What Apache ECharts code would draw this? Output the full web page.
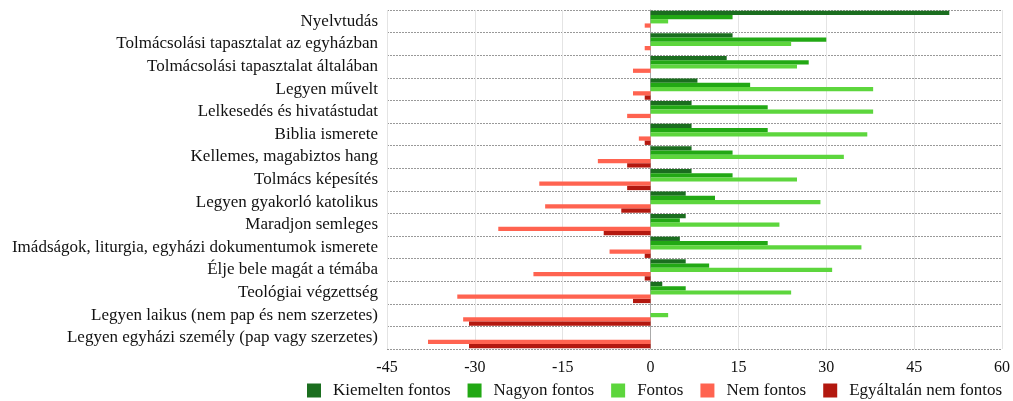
<!DOCTYPE html>
<html><head><meta charset="utf-8">
<script src="https://cdn.jsdelivr.net/npm/echarts@6/dist/echarts.min.js"></script>
<style>html,body{margin:0;padding:0;background:#fff}#c{width:1013px;height:401px}</style>
</head><body><div id="c"></div>
<script>
const categories = ["Nyelvtudás","Tolmácsolási tapasztalat az egyházban","Tolmácsolási tapasztalat általában","Legyen művelt","Lelkesedés és hivatástudat","Biblia ismerete","Kellemes, magabiztos hang","Tolmács képesítés","Legyen gyakorló katolikus","Maradjon semleges","Imádságok, liturgia, egyházi dokumentumok ismerete","Élje bele magát a témába","Teológiai végzettség","Legyen laikus (nem pap és nem szerzetes)","Legyen egyházi személy (pap vagy szerzetes)"];
const kiemelten = [51,14,13,8,7,7,7,7,6,6,5,6,2,0,0];
const nagyon = [14,30,27,17,20,20,14,14,11,5,20,10,6,0,0];
const fontos = [3,24,25,38,38,37,33,25,29,22,36,31,24,3,0];
const nemFontos = [-1,-1,-3,-3,-4,-2,-9,-19,-18,-26,-7,-20,-33,-32,-38];
const egyaltalan = [0,0,0,-1,0,-1,-4,-4,-5,-8,-1,-1,-3,-31,-31];
const xTicks = [-45,-30,-15,0,15,30,45,60];
const seriesNames = ["Kiemelten fontos","Nagyon fontos","Fontos","Nem fontos","Egyáltalán nem fontos"];
const colors = ["#1b6e1f","#22a814","#5dd63d","#ff6350","#b3180f"];
const font = "'Liberation Serif', 'DejaVu Serif', serif";
const chart = echarts.init(document.getElementById('c'));
const data = [kiemelten, nagyon, fontos, nemFontos, egyaltalan];
chart.setOption({
  animation: false,
  color: colors,
  textStyle: {fontFamily: font},
  grid: {left: 387, right: 8, top: 10, bottom: 52, containLabel: false},
  xAxis: {
    type: 'value', min: xTicks[0], max: xTicks[xTicks.length-1], interval: 15,
    axisLine: {show: false}, axisTick: {show: false},
    axisLabel: {color: '#111', fontSize: 16, fontFamily: font, margin: 11},
    splitLine: {show: true, lineStyle: {color: '#e4e4e4', width: 1}}
  },
  yAxis: {
    type: 'category', data: categories, inverse: true,
    axisLine: {show: true, lineStyle: {color: '#aaa'}}, axisTick: {show: false},
    axisLabel: {color: '#111', fontSize: 17, fontFamily: font, margin: 9},
    splitLine: {show: true, lineStyle: {color: '#999', type: [2, 1], width: 1}}
  },
  legend: {
    top: 382, left: 307, padding: 0, itemWidth: 14, itemHeight: 14, itemGap: 17, icon: 'rect',
    textStyle: {fontSize: 17, fontFamily: font, color: '#111', padding: [0,0,0,7]},
    data: seriesNames
  },
  series: seriesNames.map((n, i) => ({
    name: n, type: 'bar', data: data[i], barGap: '0%', barCategoryGap: '6%',
    itemStyle: {color: colors[i]}
  }))
});
</script></body></html>
